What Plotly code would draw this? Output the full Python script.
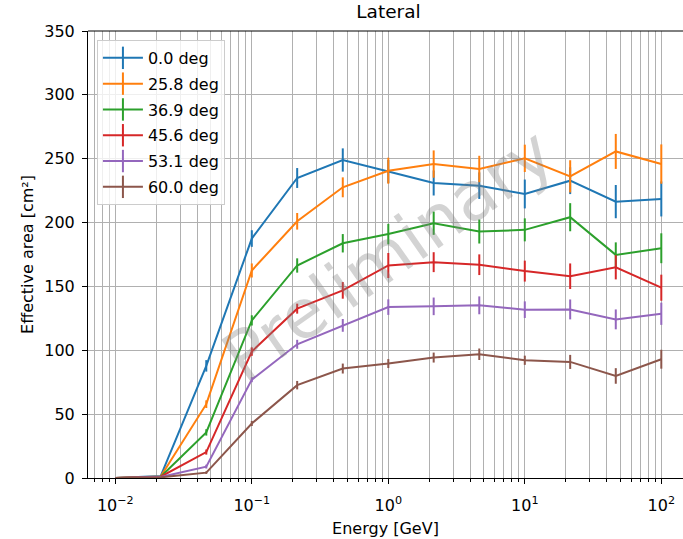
import plotly.graph_objects as go

energies = [0.01, 0.0215, 0.0464, 0.1, 0.215, 0.464, 1.0, 2.15, 4.64, 10.0, 21.5, 46.4, 100.0]

labels = ["0.0 deg", "25.8 deg", "36.9 deg", "45.6 deg", "53.1 deg", "60.0 deg"]
colors = ["#1f77b4", "#ff7f0e", "#2ca02c", "#d62728", "#9467bd", "#8c564b"]

area_00 = [0, 1.5, 87.8, 187.5, 234.9, 249.0, 240.0, 231.0, 228.9, 222.4, 232.8, 216.4, 218.5]
err_00 = [0, 0.3, 4.5, 6.5, 7.8, 9.1, 9.0, 9.8, 10.4, 11.3, 10.5, 13.0, 13.7]

area_258 = [0, 1.2, 57.8, 162.5, 201.0, 227.6, 240.6, 245.8, 241.9, 250.3, 236.2, 255.7, 245.8]
err_258 = [0, 0.3, 3.0, 5.5, 6.5, 7.8, 10.2, 10.7, 10.4, 10.7, 12.6, 13.7, 15.4]

area_369 = [0, 1.0, 35.7, 123.4, 166.4, 183.8, 191.0, 199.5, 193.0, 194.3, 204.2, 174.7, 179.9]
err_369 = [0, 0.3, 2.5, 4.0, 5.6, 7.2, 8.0, 9.1, 9.4, 9.0, 11.0, 9.8, 11.7]

area_456 = [0, 1.0, 20.3, 99.0, 132.6, 146.9, 166.4, 169.0, 167.0, 162.0, 158.0, 165.0, 149.0]
err_456 = [0, 0.2, 2.0, 3.3, 3.9, 6.5, 9.8, 7.8, 8.1, 8.2, 10.0, 9.5, 10.2]

area_531 = [0, 0.8, 8.9, 77.0, 104.7, 119.5, 133.8, 134.4, 135.2, 131.8, 132.0, 124.2, 128.6]
err_531 = [0, 0.2, 1.5, 2.0, 3.5, 5.0, 6.1, 6.9, 7.0, 6.5, 7.8, 7.8, 8.7]

area_600 = [0, 0.5, 4.2, 42.7, 72.7, 85.7, 89.6, 94.3, 96.9, 92.2, 90.9, 79.9, 93.0]
err_600 = [0, 0.1, 1.0, 2.0, 3.3, 3.9, 3.5, 3.9, 4.5, 3.6, 5.5, 6.1, 7.4]

areas = [area_00, area_258, area_369, area_456, area_531, area_600]
errors = [err_00, err_258, err_369, err_456, err_531, err_600]

x_tickvals = [0.01, 0.1, 1, 10, 100]
x_ticktext = ["10<sup>−2</sup>", "10<sup>−1</sup>", "10<sup>0</sup>", "10<sup>1</sup>", "10<sup>2</sup>"]
y_tickvals = [0, 50, 100, 150, 200, 250, 300, 350]

title_text = "Lateral"
x_title = "Energy [GeV]"
y_title = "Effective area [cm²]"
watermark = "Preliminary"

FONT = "DejaVu Sans"
GRID = "#b0b0b0"

minor_vals = [m * 10.0 ** d for d in range(-3, 3) for m in range(2, 10)]

fig = go.Figure()

for lab, col, ys, es in zip(labels, colors, areas, errors):
    fig.add_trace(go.Scatter(
        x=energies, y=ys, mode="lines", name=lab, showlegend=False,
        line=dict(color=col, width=2),
        error_y=dict(type="data", array=es, visible=True, color=col, thickness=2, width=0),
    ))

for i, (lab, col) in enumerate(zip(labels, colors)):
    fig.add_trace(go.Scatter(
        x=[None], y=[None], mode="lines+markers", name=lab, legendgroup=f"g{i}",
        line=dict(color=col, width=2),
        marker=dict(symbol="line-ns", size=16, color=col, line=dict(color=col, width=2)),
    ))

fig.add_annotation(
    text=watermark, xref="paper", yref="paper", x=0.505, y=0.5,
    showarrow=False, textangle=-35,
    font=dict(family=FONT, size=68, color="rgba(128,128,128,0.35)"),
)

fig.add_shape(type="line", xref="paper", yref="paper", x0=0, x1=1, y0=1, y1=1,
              line=dict(color="black", width=1))

fig.update_layout(
    width=683, height=539,
    margin=dict(l=88, r=0, t=31, b=61),
    paper_bgcolor="white", plot_bgcolor="white",
    font=dict(family=FONT, size=16, color="black"),
    title=dict(text=title_text, x=0.505, xref="paper", xanchor="center",
               y=1 - 11.5 / 539, yref="container", yanchor="middle",
               font=dict(family=FONT, size=18.5, color="black")),
    legend=dict(x=0.015, y=0.98, xanchor="left", yanchor="top",
                bgcolor="rgba(255,255,255,0.8)", bordercolor="#cccccc", borderwidth=1,
                font=dict(family=FONT, size=16, color="black"),
                tracegroupgap=2, itemwidth=40),
    showlegend=True,
)

fig.update_xaxes(
    type="log", range=[-2.2, 2.159],
    tickvals=x_tickvals, ticktext=x_ticktext,
    ticks="outside", ticklen=5, tickwidth=1, tickcolor="black",
    ticklabelstandoff=8,
    showline=True, linecolor="black", linewidth=1,
    showgrid=True, gridcolor=GRID, gridwidth=1,
    minor=dict(tickvals=minor_vals, ticks="outside", ticklen=3, tickcolor="black",
               showgrid=True, gridcolor=GRID, gridwidth=1),
    title=dict(text=x_title, standoff=8, font=dict(family=FONT, size=16)),
    zeroline=False,
)

fig.update_yaxes(
    range=[0, 350], tickvals=y_tickvals,
    ticks="outside", ticklen=5, tickwidth=1, tickcolor="black",
    ticklabelstandoff=4,
    showline=True, linecolor="black", linewidth=1,
    showgrid=True, gridcolor=GRID, gridwidth=1,
    title=dict(text=y_title, standoff=6, font=dict(family=FONT, size=16)),
    zeroline=False,
)

fig.write_html("out.html", config={"displayModeBar": False},
               post_script="document.body.style.margin='0';")
